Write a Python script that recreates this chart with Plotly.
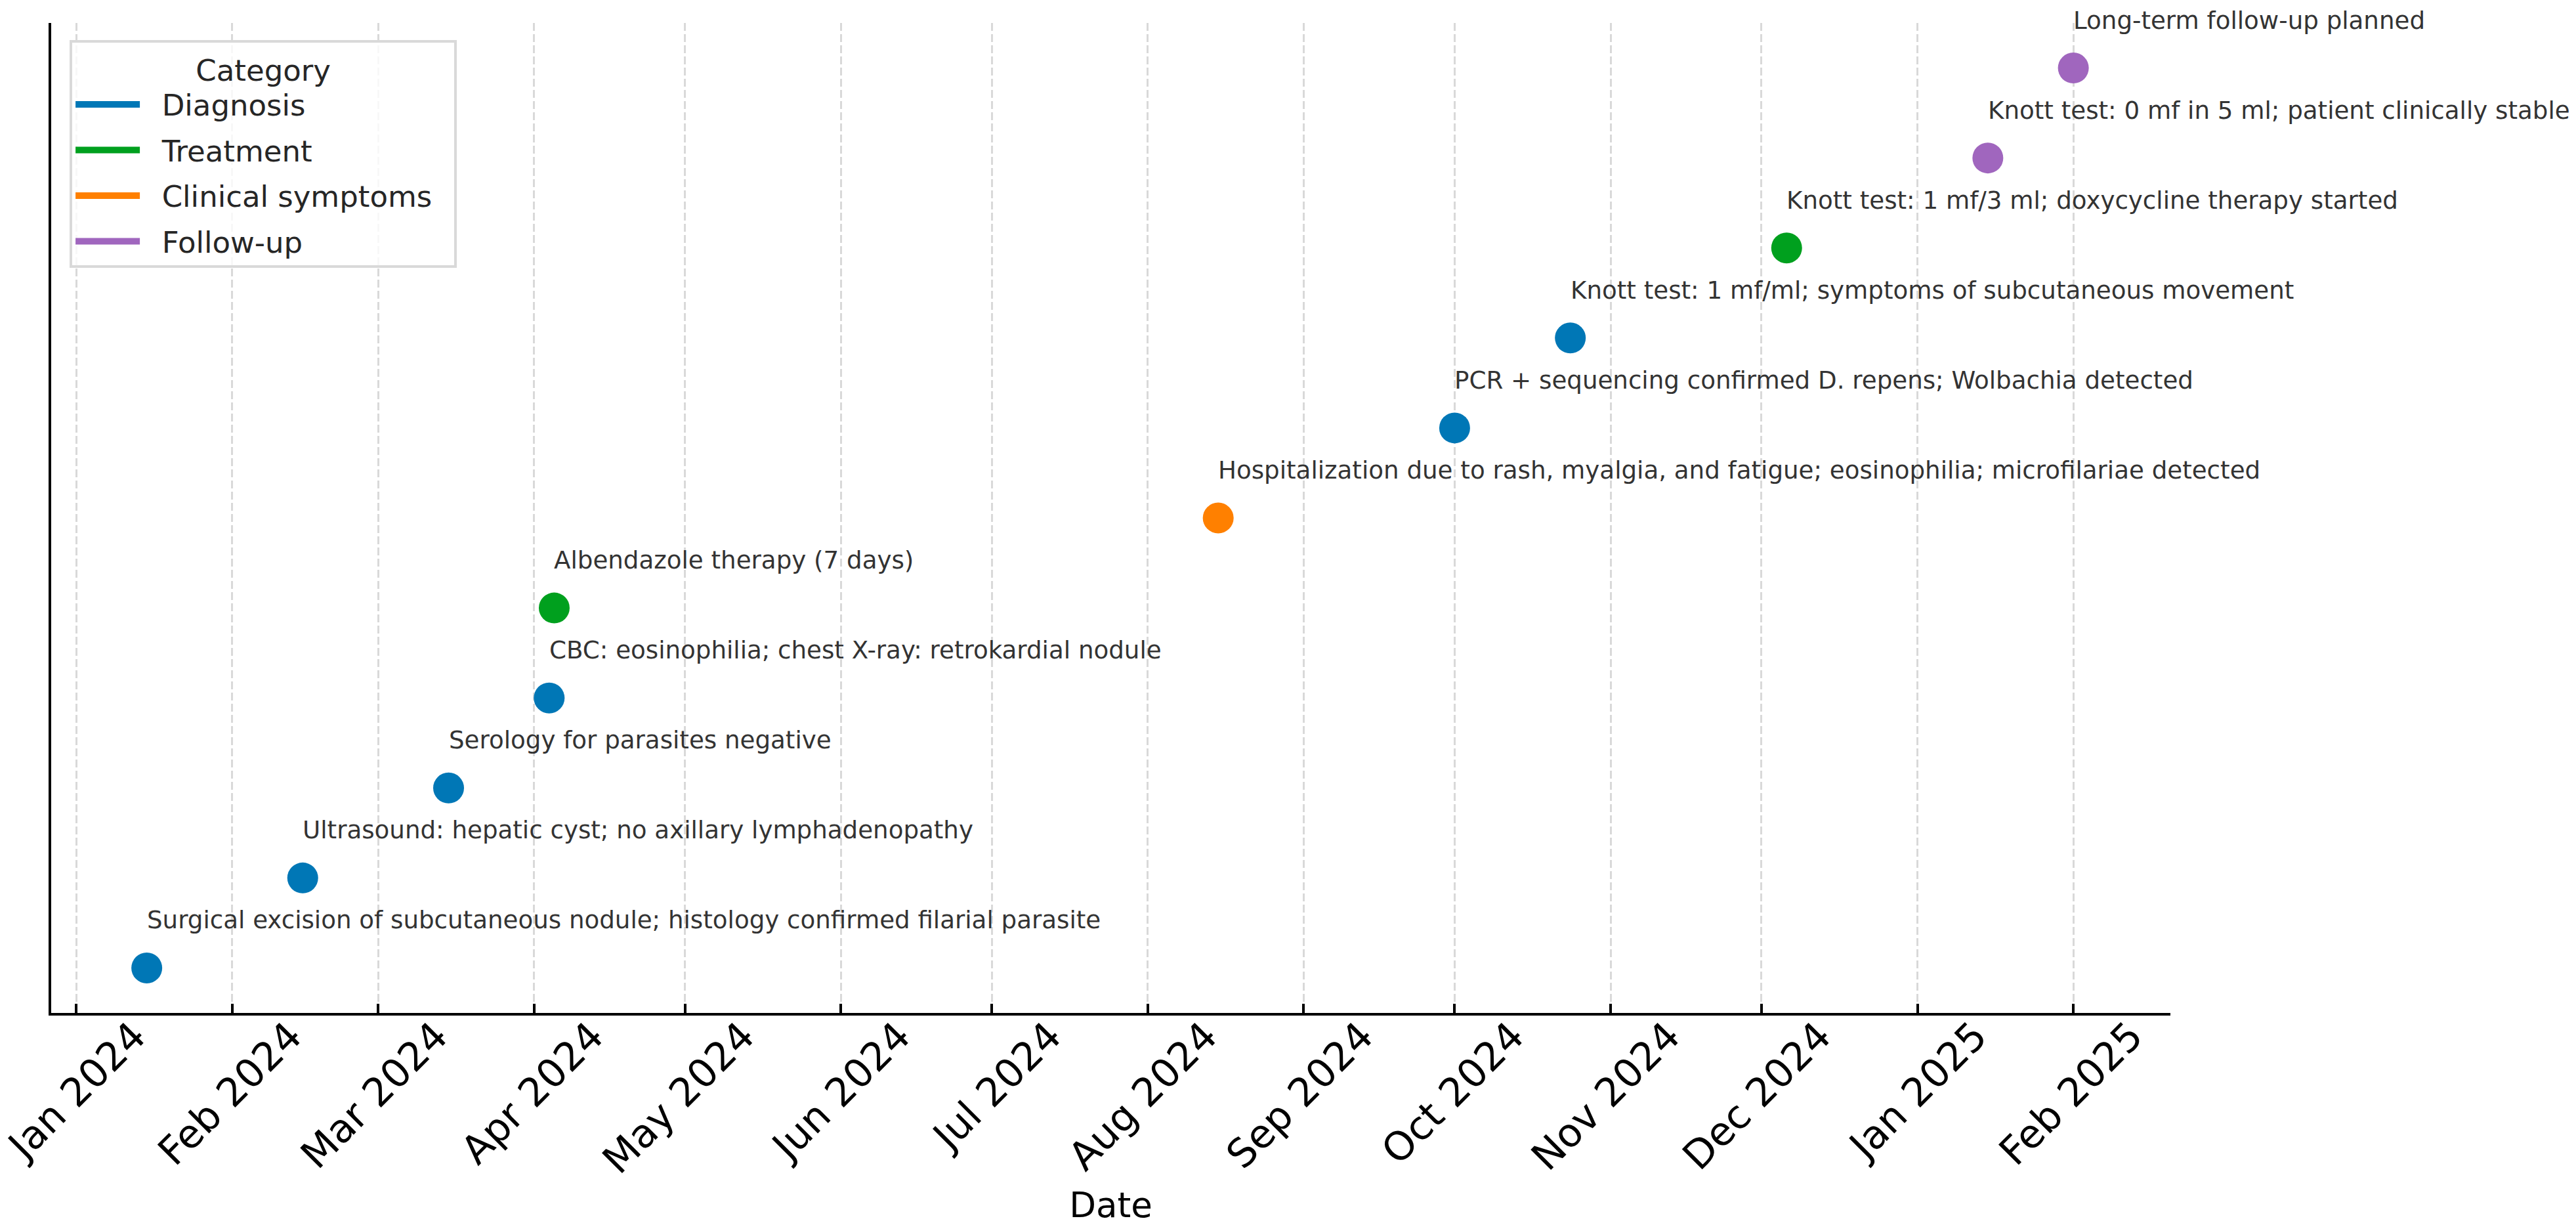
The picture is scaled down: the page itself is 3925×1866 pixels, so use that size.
import plotly.graph_objects as go

# ---- data ----
event_dates = ['2024-01-15', '2024-02-15', '2024-03-15', '2024-04-04', '2024-04-05',
               '2024-08-15', '2024-10-01', '2024-10-24', '2024-12-06', '2025-01-15',
               '2025-02-01']
event_texts = [
    'Surgical excision of subcutaneous nodule; histology confirmed filarial parasite',
    'Ultrasound: hepatic cyst; no axillary lymphadenopathy',
    'Serology for parasites negative',
    'CBC: eosinophilia; chest X-ray: retrokardial nodule',
    'Albendazole therapy (7 days)',
    'Hospitalization due to rash, myalgia, and fatigue; eosinophilia; microfilariae detected',
    'PCR + sequencing confirmed D. repens; Wolbachia detected',
    'Knott test: 1 mf/ml; symptoms of subcutaneous movement',
    'Knott test: 1 mf/3 ml; doxycycline therapy started',
    'Knott test: 0 mf in 5 ml; patient clinically stable',
    'Long-term follow-up planned',
]
event_categories = ['Diagnosis', 'Diagnosis', 'Diagnosis', 'Diagnosis', 'Treatment',
                    'Clinical symptoms', 'Diagnosis', 'Diagnosis', 'Treatment',
                    'Follow-up', 'Follow-up']
event_rows = [0, 1, 2, 3, 4, 5, 6, 7, 8, 9, 10]

category_order = ['Diagnosis', 'Treatment', 'Clinical symptoms', 'Follow-up']
category_colors = ['#0077B6', '#00A01E', '#FF8000', '#A066BE']

FONT = 'DejaVu Sans'
NBSP = '\u00a0'

fig = go.Figure()

# data points, one trace per category
for cat, col in zip(category_order, category_colors):
    xs = [d for d, c in zip(event_dates, event_categories) if c == cat]
    ys = [r for r, c in zip(event_rows, event_categories) if c == cat]
    fig.add_trace(go.Scatter(
        x=xs, y=ys, mode='markers', name=cat, showlegend=False,
        marker=dict(size=47, color=col, line=dict(width=0)),
        cliponaxis=False,
    ))

# legend swatches
for cat, col in zip(category_order, category_colors):
    fig.add_trace(go.Scatter(
        x=[None], y=[None], mode='lines', name=NBSP * 2 + cat + NBSP * 2,
        showlegend=True, legendgroup=cat,
        line=dict(color=col, width=10),
    ))

# event labels
for d, r, t in zip(event_dates, event_rows, event_texts):
    fig.add_annotation(
        x=d, y=r, text=t, showarrow=False, xanchor='left', yanchor='middle',
        yshift=73, xshift=-2, font=dict(family=FONT, size=37.2, color='#333333'),
    )

fig.update_layout(
    width=3925, height=1866, autosize=False,
    margin=dict(l=78, r=618, t=35, b=323),
    paper_bgcolor='white', plot_bgcolor='white',
    font=dict(family=FONT, color='black'),
    showlegend=True,
    legend=dict(
        x=0.0087, y=0.983, xanchor='left', yanchor='top',
        bgcolor='rgba(255,255,255,0.8)', bordercolor='#d9d9d9', borderwidth=4,
        font=dict(family=FONT, size=45, color='#262626'),
        title=dict(text='Category', side='top center',
                   font=dict(family=FONT, size=45, color='#262626')),
        itemwidth=98, tracegroupgap=8,
    ),
    xaxis=dict(
        type='date',
        range=['2023-12-27', '2025-02-20 07:00'],
        tick0='2024-01-01', dtick='M1', tickformat='%b %Y',
        tickangle=-45,
        tickfont=dict(family=FONT, size=60, color='black'),
        ticks='inside', ticklen=14, tickwidth=3.5, tickcolor='black',
        showline=True, linecolor='black', linewidth=3.5,
        showgrid=True, gridcolor='#d9d9d9', gridwidth=2.5, griddash='12px,5px',
        zeroline=False,
        ticklabelshift=88, ticklabelstandoff=-28, ticklabeloverflow='allow',
        title=dict(text='Date', font=dict(family=FONT, size=53, color='black'),
                   standoff=63),
        automargin=False,
    ),
    yaxis=dict(
        range=[-0.5, 10.5],
        showticklabels=False, ticks='', showgrid=False, zeroline=False,
        showline=True, linecolor='black', linewidth=3.5,
        automargin=False,
    ),
)

fig.write_html('out.html', config={'displayModeBar': False},
               post_script="document.body.style.margin='0px';")
